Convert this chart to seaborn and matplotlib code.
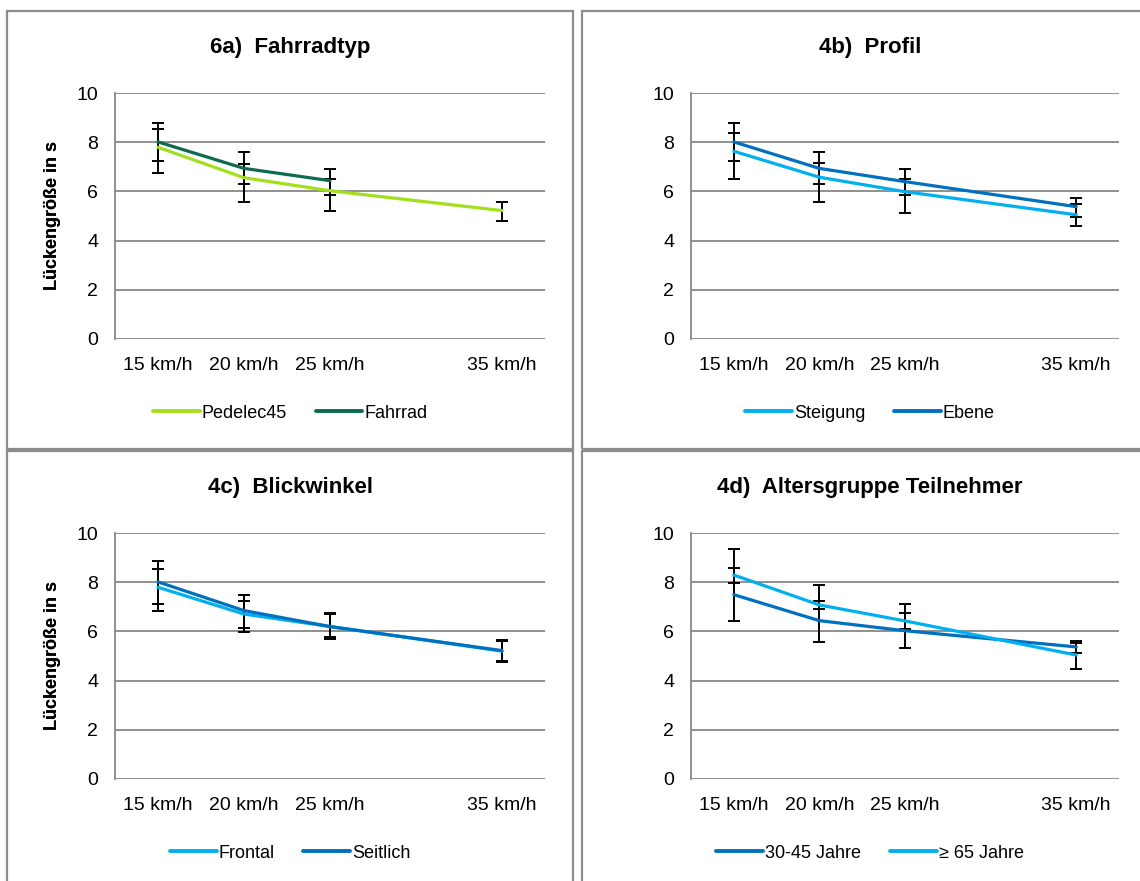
import numpy as np
import pandas as pd
import matplotlib
matplotlib.use("Agg")
import matplotlib.pyplot as plt
import seaborn as sns
from matplotlib.patches import Rectangle
from matplotlib.lines import Line2D

# ---------------- data ----------------
speeds = [15, 20, 25, 35]
speed_labels = ["15 km/h", "20 km/h", "25 km/h", "35 km/h"]
y_ticks = [0, 2, 4, 6, 8, 10]
y_label = "Lückengröße in s"

titles = ["6a)  Fahrradtyp", "4b)  Profil", "4c)  Blickwinkel", "4d)  Altersgruppe Teilnehmer"]

# 6a) Fahrradtyp
pedelec45 = [7.80, 6.56, 6.03, 5.22]
pedelec45_hi = [8.53, 7.12, 6.52, 5.58]
pedelec45_lo = [6.77, 5.58, 5.19, 4.81]
fahrrad = [8.02, 6.94, 6.44]
fahrrad_hi = [8.80, 7.60, 6.93]
fahrrad_lo = [7.26, 6.30, 5.86]

# 4b) Profil
steigung = [7.64, 6.58, 5.99, 5.05]
steigung_hi = [8.37, 7.15, 6.49, 5.49]
steigung_lo = [6.49, 5.58, 5.11, 4.61]
ebene = [8.02, 6.94, 6.40, 5.38]
ebene_hi = [8.80, 7.60, 6.92, 5.72]
ebene_lo = [7.26, 6.29, 5.86, 4.97]

# 4c) Blickwinkel
frontal = [7.80, 6.71, 6.20, 5.20]
frontal_hi = [8.53, 7.24, 6.70, 5.62]
frontal_lo = [6.85, 5.96, 5.76, 4.78]
seitlich = [8.02, 6.85, 6.20, 5.22]
seitlich_hi = [8.89, 7.47, 6.74, 5.65]
seitlich_lo = [7.11, 6.13, 5.69, 4.76]

# 4d) Altersgruppe
jahre_30_45 = [7.50, 6.44, 6.03, 5.37]
jahre_30_45_hi = [8.59, 7.24, 6.74, 5.61]
jahre_30_45_lo = [6.44, 5.58, 5.33, 5.13]
jahre_65 = [8.30, 7.08, 6.43, 5.04]
jahre_65_hi = [9.36, 7.89, 7.11, 5.55]
jahre_65_lo = [7.99, 6.92, 6.09, 4.46]

LIME = "#A2E01C"
DKGREEN = "#0B6A4F"
LBLUE = "#00B0F0"
DBLUE = "#0070C0"

panels = [
    [("Pedelec45", pedelec45, pedelec45_lo, pedelec45_hi, LIME),
     ("Fahrrad", fahrrad, fahrrad_lo, fahrrad_hi, DKGREEN)],
    [("Steigung", steigung, steigung_lo, steigung_hi, LBLUE),
     ("Ebene", ebene, ebene_lo, ebene_hi, DBLUE)],
    [("Frontal", frontal, frontal_lo, frontal_hi, LBLUE),
     ("Seitlich", seitlich, seitlich_lo, seitlich_hi, DBLUE)],
    [("30-45 Jahre", jahre_30_45, jahre_30_45_lo, jahre_30_45_hi, DBLUE),
     ("≥ 65 Jahre", jahre_65, jahre_65_lo, jahre_65_hi, LBLUE)],
]

# ---------------- style ----------------
sns.set_theme(style="white")
plt.rcParams["font.family"] = ["Liberation Sans", "DejaVu Sans"]
plt.rcParams["text.color"] = "black"
plt.rcParams["axes.labelcolor"] = "black"
plt.rcParams["xtick.color"] = "black"
plt.rcParams["ytick.color"] = "black"

W, H = 1140, 881
fig = plt.figure(figsize=(W / 100, H / 100), dpi=100)

GRID = "#878787"
BORDER = "#8C8C8C"

# panel geometry in pixels
geo = [
    (7, 573, 11, 449, 115, 545, 93.3, 338.7),
    (582, 1158, 11, 449, 691, 1119, 93.3, 338.7),
    (7, 573, 451, 895, 115, 545, 533.3, 778.7),
    (582, 1158, 451, 895, 691, 1119, 533.3, 778.7),
]

for i, (series, g) in enumerate(zip(panels, geo)):
    pl, pr, pt, pb, al, ar, at, ab = g
    fig.add_artist(Rectangle((pl / W, 1 - pb / H), (pr - pl) / W, (pb - pt) / H,
                             transform=fig.transFigure, fill=False,
                             edgecolor=BORDER, lw=1.6, zorder=0))
    ax = fig.add_axes([al / W, 1 - ab / H, (ar - al) / W, (ab - at) / H])

    rows = []
    for name, vals, lo, hi, col in series:
        for s, v in zip(speeds, vals):
            rows.append({"speed": s, "value": v, "series": name})
    df = pd.DataFrame(rows)
    names = [s[0] for s in series]
    pal = {s[0]: s[4] for s in series}
    sns.lineplot(data=df, x="speed", y="value", hue="series", hue_order=names,
                 palette=pal, lw=2.3, legend=False, ax=ax, zorder=4, sort=False)

    for name, vals, lo, hi, col in series:
        xs = speeds[:len(vals)]
        v = np.array(vals)
        yerr = [v - np.array(lo), np.array(hi) - v]
        ax.errorbar(xs, v, yerr=yerr, fmt="none", ecolor="black",
                    elinewidth=1.4, capsize=4, capthick=1.4, zorder=3)

    ax.set_xlim(12.5, 37.5)
    ax.set_ylim(0, 10)
    ax.set_yticks(y_ticks)
    ax.set_xticks(speeds)
    ax.set_xticklabels(speed_labels)
    ax.set_xlabel("")
    ax.set_ylabel("")
    ax.yaxis.grid(True, color=GRID, lw=1.3)
    ax.xaxis.grid(False)
    ax.set_axisbelow(True)
    for sp in ["top", "right", "bottom"]:
        ax.spines[sp].set_visible(False)
    ax.spines["left"].set_color(GRID)
    ax.spines["left"].set_linewidth(1.3)
    ax.tick_params(axis="both", length=0, labelsize=14, colors="black")
    ax.tick_params(axis="y", pad=12)
    ax.tick_params(axis="x", pad=13)

    cx = (pl + pr) / 2
    fig.text(cx / W, 1 - (pt + 37) / H, titles[i], ha="center", va="center",
             fontsize=16, fontweight="bold", color="black")
    fig.text(53 / W, 1 - ((at + ab) / 2) / H, y_label, rotation=90,
             ha="center", va="center", fontsize=13, fontweight="bold", color="black")
    handles = [Line2D([0], [0], color=s[4], lw=2.8) for s in series]
    leg = ax.legend(handles, names, loc="center", ncol=2,
                    bbox_to_anchor=(cx / W, 1 - (pt + 402) / H),
                    bbox_transform=fig.transFigure, frameon=False, fontsize=13,
                    handlelength=2.6, handletextpad=0.1, columnspacing=1.6)
    for t in leg.get_texts():
        t.set_color("black")

fig.savefig("out.png", dpi=100)
